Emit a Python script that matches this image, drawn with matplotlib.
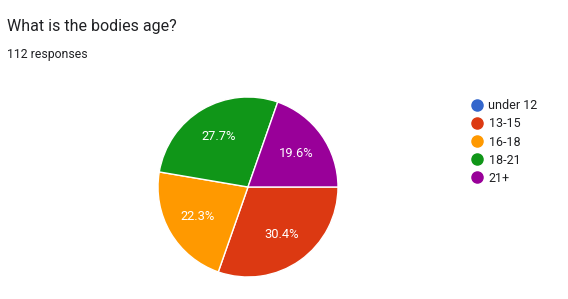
import matplotlib.pyplot as plt
from matplotlib.lines import Line2D

plt.rcParams['font.family'] = ['Roboto', 'DejaVu Sans']

title = 'What is the bodies age?'
subtitle = '112 responses'
labels = ['under 12', '13-15', '16-18', '18-21', '21+']
counts = [0, 34, 25, 31, 22]
colors = ['#3366cc', '#dc3912', '#ff9900', '#109618', '#990099']

W, H = 568, 299
fig = plt.figure(figsize=(W / 100, H / 100), dpi=100)

fig.text(7 / W, 1 - 31 / H, title, fontsize=11.5, color='#202124', va='baseline')
fig.text(7 / W, 1 - 58 / H, subtitle, fontsize=8.8, color='#202124', va='baseline')

# pie centred at (248, 187) px, radius ~90 px
cx, cy, r = 248, 187, 90
ax = fig.add_axes([(cx - r) / W, (H - cy - r) / H, 2 * r / W, 2 * r / H])


def fmt(p):
    return '' if p < 0.05 else '%.1f%%' % p


wedges, texts, autotexts = ax.pie(
    counts, colors=colors, startangle=0, counterclock=False,
    autopct=fmt, pctdistance=0.65,
    wedgeprops=dict(edgecolor='white', linewidth=1.0),
    textprops=dict(color='white', fontsize=9.3))
ax.set_xlim(-1, 1)
ax.set_ylim(-1, 1)
ax.set_aspect('equal')
ax.axis('off')

handles = [Line2D([], [], marker='o', linestyle='', markersize=8,
                  markerfacecolor=c, markeredgecolor=c) for c in colors]
fig.legend(handles, labels, loc='upper left',
           bbox_to_anchor=(461 / W, 1 - 93 / H), frameon=False,
           fontsize=9, labelspacing=0.41, handletextpad=0.2,
           handlelength=1.5, borderpad=0, labelcolor='#202124')

fig.savefig('out.png', dpi=100)
